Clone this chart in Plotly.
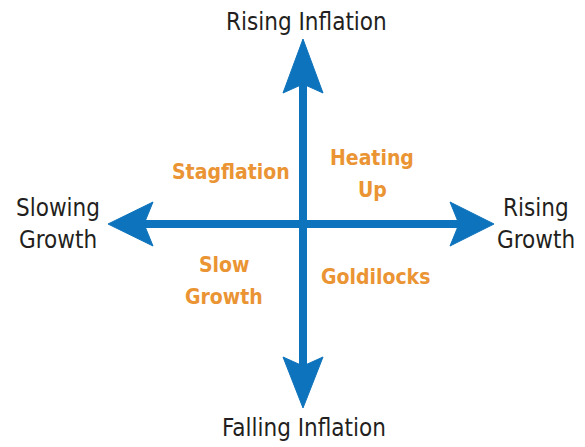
import plotly.graph_objects as go

# ---- content ----
axis_labels = ["Rising Inflation", "Falling Inflation", "Slowing<br>Growth", "Rising<br>Growth"]
quadrant_labels = ["Stagflation", "Heating<br>Up", "Slow<br>Growth", "Goldilocks"]

# diagram geometry (reference-pixel coordinate system, y downward)
W, H = 585, 447
OFF = 8  # page body margin
cx, cy = 303, 224
tips = {"up": 39, "down": 408, "left": 108, "right": 494}
head_len = {"up": 54, "down": 51, "left": 45, "right": 44}
head_half = 20
notch = 9
shaft_w = 8
LINE_GAP = 32
BLUE = "#0d73bc"
ORANGE = "#ea9434"
DARK = "#231f20"
FONT = "DejaVu Sans Condensed, Liberation Sans Narrow, Liberation Sans, sans-serif"

fig = go.Figure()

# shafts
fig.add_trace(go.Scatter(x=[cx, cx], y=[tips["up"] + 30, tips["down"] - 30], mode="lines",
                         line=dict(color=BLUE, width=shaft_w), hoverinfo="skip"))
fig.add_trace(go.Scatter(x=[tips["left"] + 30, tips["right"] - 30], y=[cy, cy], mode="lines",
                         line=dict(color=BLUE, width=shaft_w), hoverinfo="skip"))

def head(direction):
    if direction == "up":
        t = tips["up"]; b = t + head_len["up"]
        xs = [cx, cx + head_half, cx, cx - head_half, cx]
        ys = [t, b, b - notch, b, t]
    elif direction == "down":
        t = tips["down"]; b = t - head_len["down"]
        xs = [cx, cx + head_half, cx, cx - head_half, cx]
        ys = [t, b, b + notch, b, t]
    elif direction == "left":
        t = tips["left"]; b = t + head_len["left"]
        xs = [t, b, b - notch, b, t]
        ys = [cy, cy - head_half - 2, cy, cy + head_half + 2, cy]
    else:
        t = tips["right"]; b = t - head_len["right"]
        xs = [t, b, b + notch, b, t]
        ys = [cy, cy - head_half - 2, cy, cy + head_half + 2, cy]
    return xs, ys

for d in ["up", "down", "left", "right"]:
    xs, ys = head(d)
    fig.add_trace(go.Scatter(x=xs, y=ys, mode="lines", fill="toself", fillcolor=BLUE,
                             line=dict(color=BLUE, width=1), hoverinfo="skip"))

def add_label(txt, x, y, size, color, bold=False):
    lines = txt.split("<br>")
    n = len(lines)
    for i, ln in enumerate(lines):
        yy = y + (i - (n - 1) / 2) * LINE_GAP
        fig.add_annotation(x=x, y=yy, text=("<b>" + ln + "</b>") if bold else ln,
                           showarrow=False, font=dict(family=FONT, size=size, color=color),
                           xanchor="center", yanchor="middle")

axis_pos = [(cx + 3, 22), (cx + 1, 428), (58, 224), (536, 224)]
for txt, (x, y) in zip(axis_labels, axis_pos):
    add_label(txt, x, y, 24, DARK)

quad_pos = [(231, 172), (372, 174), (224, 281), (375, 277)]
for txt, (x, y) in zip(quadrant_labels, quad_pos):
    add_label(txt, x, y, 21, ORANGE, bold=True)

fig.update_layout(
    width=W - OFF, height=H - OFF, showlegend=False,
    margin=dict(l=0, r=0, t=0, b=0),
    paper_bgcolor="white", plot_bgcolor="white",
    xaxis=dict(range=[OFF, W], visible=False, fixedrange=True),
    yaxis=dict(range=[H, OFF], visible=False, fixedrange=True),
)
fig.write_html("out.html")
